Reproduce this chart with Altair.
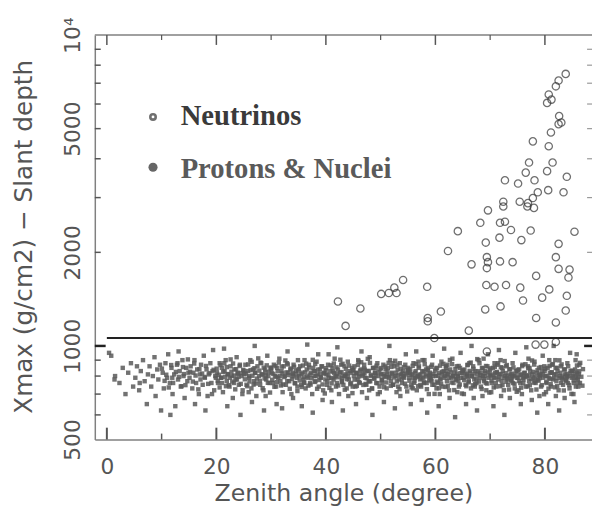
import altair as alt
import pandas as pd

# ---------------- data ----------------
x_major_ticks = [0, 20, 40, 60, 80]
x_minor_ticks = [10, 30, 50, 70]
y_label_values = [500, 1000, 2000, 5000, 10000]
y_minor_ticks = [600, 700, 800, 900, 2000, 3000, 4000, 5000, 6000, 7000, 8000, 9000]
y_major_ticks = [1000]
threshold_depth = 1060
threshold_start = 0
legend_labels = ["Neutrinos", "Protons & Nuclei"]

neutrino_angle = [83.8, 82.5, 82.0, 80.7, 81.2, 80.4, 82.6, 83.0, 82.5, 81.1, 77.8, 80.7,
                  77.1, 81.4, 76.5, 80.4, 84.0, 72.7, 75.1, 78.1, 78.7, 80.6, 83.4, 77.8,
                  72.4, 75.4, 76.9, 72.4, 76.8, 78.0, 69.6, 68.2, 71.8, 72.7, 64.1, 73.8,
                  77.4, 85.4, 71.7, 69.2, 75.7, 82.5, 62.3, 69.4, 69.6, 66.6, 71.8, 74.1,
                  82.0, 82.5, 84.5, 84.3, 69.4, 78.4, 54.1, 52.5, 51.5, 52.9, 50.1, 58.5,
                  69.3, 70.8, 72.9, 75.5, 80.8, 84.0, 79.5, 76.0, 42.2, 46.3, 61.0, 69.1,
                  71.9, 83.8, 58.6, 58.6, 78.4, 82.0, 43.6, 66.1, 59.8, 69.4, 79.9, 82.0,
                  78.3]
neutrino_depth = [7500, 7140, 6840, 6440, 6200, 6050, 5490, 5230, 5170, 4860, 4550, 4390,
                  3890, 3890, 3610, 3650, 3500, 3410, 3330, 3410, 3120, 3170, 3120, 2990,
                  2910, 2910, 2880, 2810, 2810, 2780, 2730, 2490, 2490, 2510, 2340, 2360,
                  2350, 2330, 2230, 2150, 2190, 2130, 2020, 1930, 1860, 1830, 1870, 1860,
                  1930, 1770, 1760, 1660, 1780, 1680, 1630, 1540, 1480, 1480, 1470, 1550,
                  1570, 1550, 1570, 1540, 1520, 1450, 1430, 1400, 1390, 1320, 1290, 1310,
                  1340, 1300, 1230, 1200, 1230, 1190, 1160, 1120, 1060, 960, 1010, 1030,
                  1010]

proton_points = [
    (0.4, 950), (0.8, 930), (1.4, 780), (1.5, 800), (2.3, 760), (2.9, 850), (3.4, 700), (3.9, 820), (4.4, 880), (4.8, 740),
    (5.2, 790), (5.5, 860), (5.9, 720), (6.2, 830), (6.6, 900), (6.9, 770), (7.3, 650), (7.5, 810), (7.8, 860), (8.1, 740),
    (8.4, 800), (8.7, 920), (8.9, 690), (9.2, 840), (9.4, 780), (9.7, 870), (9.9, 620), (6.0, 760),
    (10.2, 820), (10.4, 730), (10.7, 880), (11.0, 790), (11.2, 940), (11.5, 760), (11.8, 850), (12.0, 700), (12.3, 810),
    (12.5, 640), (12.8, 870), (13.0, 780), (13.3, 830), (13.5, 740), (13.8, 900), (14.0, 800), (14.2, 680), (14.5, 850),
    (14.7, 770), (14.9, 820), (11.6, 600), (13.1, 960),
    (15.1, 790), (15.3, 860), (15.6, 730), (15.8, 820), (16.0, 900), (16.3, 760), (16.5, 840), (16.8, 700), (17.0, 810),
    (17.2, 870), (17.5, 750), (17.7, 930), (17.9, 790), (18.2, 840), (18.4, 690), (18.6, 810), (18.9, 880), (19.1, 760),
    (19.3, 830), (19.6, 720), (19.8, 800), (16.1, 650), (18.0, 620), (19.4, 970),
    (20.1, 820), (20.3, 760), (20.6, 880), (20.8, 790), (21.0, 850), (21.2, 710), (21.5, 830), (21.7, 900), (21.9, 770),
    (22.1, 810), (22.4, 740), (22.6, 860), (22.8, 800), (23.0, 680), (23.3, 840), (23.5, 780), (23.7, 920), (23.9, 820),
    (24.1, 750), (24.3, 870), (24.6, 800), (24.8, 720), (22.0, 640), (24.4, 600), (21.4, 980), (23.2, 760),
    (25.1, 810), (25.3, 870), (25.5, 750), (25.8, 830), (26.0, 790), (26.2, 900), (26.4, 730), (26.7, 840), (26.9, 770),
    (27.1, 820), (27.3, 690), (27.5, 860), (27.8, 800), (28.0, 750), (28.2, 880), (28.4, 810), (28.6, 720), (28.9, 840),
    (29.1, 780), (29.3, 930), (29.5, 800), (29.7, 760), (29.9, 850), (26.5, 660), (28.7, 620), (27.0, 1000), (25.9, 710),
    (29.0, 690),
    (30.1, 820), (30.3, 760), (30.5, 870), (30.7, 800), (30.9, 740), (31.1, 850), (31.3, 790), (31.5, 910), (31.7, 770),
    (31.9, 830), (32.1, 710), (32.3, 860), (32.5, 800), (32.7, 750), (32.9, 880), (33.1, 820), (33.3, 770), (33.5, 840),
    (33.7, 700), (33.9, 810), (34.1, 870), (34.3, 760), (34.5, 830), (34.7, 790), (34.9, 900), (31.0, 650), (32.0, 630),
    (33.0, 960), (34.0, 680), (34.8, 740),
    (35.1, 800), (35.3, 860), (35.5, 750), (35.7, 820), (35.9, 780), (36.1, 900), (36.3, 730), (36.5, 840), (36.7, 790),
    (36.9, 870), (37.1, 760), (37.3, 820), (37.5, 700), (37.7, 850), (37.9, 800), (38.1, 770), (38.3, 890), (38.5, 810),
    (38.7, 740), (38.9, 840), (39.1, 790), (39.3, 860), (39.5, 720), (39.7, 820), (39.9, 780), (35.6, 640), (36.6, 1010),
    (37.6, 610), (38.6, 940), (39.4, 670), (36.0, 760), (38.0, 830),
    (40.1, 810), (40.2, 750), (40.4, 870), (40.6, 790), (40.8, 830), (41.0, 720), (41.2, 850), (41.4, 780), (41.6, 910),
    (41.8, 800), (42.0, 760), (42.2, 840), (42.4, 700), (42.6, 820), (42.8, 870), (43.0, 790), (43.2, 750), (43.4, 860),
    (43.6, 810), (43.8, 730), (44.0, 890), (44.2, 780), (44.4, 830), (44.6, 760), (44.8, 850), (41.1, 660), (42.1, 990),
    (43.1, 620), (44.1, 690), (40.5, 940), (43.5, 800), (44.9, 740), (42.9, 770), (41.5, 820),
    (45.1, 800), (45.2, 860), (45.4, 740), (45.6, 820), (45.8, 780), (46.0, 890), (46.2, 760), (46.4, 840), (46.6, 710),
    (46.8, 810), (47.0, 870), (47.2, 790), (47.4, 750), (47.6, 830), (47.8, 770), (48.0, 920), (48.2, 800), (48.4, 730),
    (48.6, 850), (48.8, 790), (49.0, 820), (49.2, 760), (49.4, 880), (49.6, 800), (49.8, 740), (45.5, 650), (46.5, 960),
    (47.5, 680), (48.5, 600), (49.5, 700), (46.1, 810), (47.1, 840), (48.1, 770), (49.1, 850), (45.9, 900), (47.9, 720),
    (50.1, 810), (50.3, 760), (50.5, 870), (50.7, 800), (50.9, 840), (51.1, 730), (51.3, 850), (51.5, 790), (51.7, 900),
    (51.9, 770), (52.1, 820), (52.3, 750), (52.5, 860), (52.7, 800), (52.9, 710), (53.1, 840), (53.3, 780), (53.5, 880),
    (53.7, 810), (53.9, 760), (54.1, 830), (54.3, 790), (54.5, 870), (54.7, 740), (54.9, 820), (50.6, 660), (51.6, 1000),
    (52.6, 630), (53.6, 690), (54.6, 940), (50.2, 780), (51.2, 810), (52.2, 880), (53.2, 740), (54.2, 800), (55.0, 850),
    (55.2, 790), (55.4, 840), (55.6, 750), (55.8, 810), (56.0, 880), (56.2, 770), (56.4, 830), (56.6, 720), (56.8, 800),
    (57.0, 860), (57.2, 780), (57.4, 740), (57.6, 830), (57.8, 790), (58.0, 900), (58.2, 810), (58.4, 760), (58.6, 850),
    (58.8, 700), (59.0, 820), (59.2, 780), (59.4, 870), (59.6, 800), (59.8, 750), (55.5, 650), (56.5, 960), (57.5, 670),
    (58.5, 610), (59.5, 930), (55.3, 820), (56.3, 790), (57.3, 810), (58.3, 840), (59.3, 770), (55.9, 730), (56.9, 890),
    (57.9, 760), (58.9, 800),
    (60.1, 800), (60.3, 850), (60.5, 760), (60.7, 820), (60.9, 780), (61.1, 890), (61.3, 740), (61.5, 830), (61.7, 800),
    (61.9, 860), (62.1, 770), (62.3, 810), (62.5, 720), (62.7, 840), (62.9, 790), (63.1, 910), (63.3, 760), (63.5, 820),
    (63.7, 780), (63.9, 860), (64.1, 800), (64.3, 740), (64.5, 850), (64.7, 790), (64.9, 820), (60.6, 640), (61.6, 980),
    (62.6, 680), (63.6, 590), (64.6, 950), (60.2, 730), (61.2, 810), (62.2, 870), (63.2, 800), (64.2, 770), (60.8, 700),
    (62.0, 830), (64.0, 710),
    (65.1, 790), (65.3, 840), (65.5, 750), (65.7, 810), (65.9, 870), (66.1, 770), (66.3, 820), (66.5, 730), (66.7, 800),
    (66.9, 860), (67.1, 780), (67.3, 830), (67.5, 760), (67.7, 810), (67.9, 900), (68.1, 790), (68.3, 740), (68.5, 850),
    (68.7, 800), (68.9, 770), (69.1, 830), (69.3, 720), (69.5, 860), (69.7, 790), (69.9, 810), (65.6, 650), (66.6, 1000),
    (67.6, 620), (68.6, 690), (69.6, 940), (65.2, 700), (66.2, 880), (67.2, 740), (68.2, 820), (69.2, 760), (65.8, 800),
    (67.0, 680), (68.8, 910),
    (70.1, 800), (70.3, 760), (70.5, 850), (70.7, 790), (70.9, 820), (71.1, 740), (71.3, 870), (71.5, 780), (71.7, 810),
    (71.9, 900), (72.1, 770), (72.3, 830), (72.5, 720), (72.7, 800), (72.9, 860), (73.1, 790), (73.3, 750), (73.5, 840),
    (73.7, 810), (73.9, 770), (74.1, 880), (74.3, 800), (74.5, 730), (74.7, 830), (74.9, 790), (70.6, 640), (71.6, 970),
    (72.6, 600), (73.6, 680), (74.6, 950), (70.2, 710), (71.2, 820), (72.2, 850), (73.2, 780), (74.2, 760), (70.8, 880),
    (72.0, 690), (74.0, 800),
    (75.1, 790), (75.3, 840), (75.5, 760), (75.7, 810), (75.9, 870), (76.1, 780), (76.3, 820), (76.5, 740), (76.7, 800),
    (76.9, 860), (77.1, 770), (77.3, 830), (77.5, 720), (77.7, 810), (77.9, 790), (78.1, 890), (78.3, 760), (78.5, 820),
    (78.7, 780), (78.9, 850), (79.1, 800), (79.3, 740), (79.5, 830), (79.7, 790), (79.9, 860), (75.6, 650), (76.6, 990),
    (77.6, 670), (78.6, 610), (79.6, 930), (75.2, 720), (76.2, 800), (77.2, 850), (78.2, 770), (79.2, 810), (75.8, 700),
    (77.0, 910), (79.0, 690),
    (80.1, 800), (80.3, 760), (80.5, 850), (80.7, 790), (80.9, 820), (81.1, 740), (81.3, 870), (81.5, 780), (81.7, 810),
    (81.9, 900), (82.1, 770), (82.3, 830), (82.5, 720), (82.7, 800), (82.9, 860), (83.1, 790), (83.3, 750), (83.5, 840),
    (83.7, 810), (83.9, 770), (84.1, 880), (84.3, 800), (84.5, 730), (84.7, 830), (84.9, 790), (80.6, 650), (81.6, 1000),
    (82.6, 620), (83.6, 680), (84.6, 950), (80.2, 710), (81.2, 820), (82.2, 850), (83.2, 780), (84.2, 760), (80.8, 900),
    (82.0, 690), (84.0, 800),
    (85.1, 800), (85.3, 760), (85.5, 840), (85.7, 790), (85.9, 820), (86.1, 740), (86.3, 870), (85.2, 700), (85.6, 900),
    (86.0, 780), (86.2, 810), (85.4, 660), (85.8, 940), (86.4, 760),
]

proton_points_core = [
    (10.05, 845), (10.55, 772), (10.85, 808), (11.3, 735), (11.75, 868), (11.95, 790), (12.1, 760), (12.6, 825),
    (12.9, 880), (13.2, 795), (13.65, 742), (13.9, 855), (14.1, 812), (14.35, 748), (14.8, 905), (15.2, 826),
    (15.7, 768), (15.95, 878), (16.2, 803), (16.7, 725), (16.9, 842), (17.1, 780), (17.4, 815), (17.85, 795),
    (18.1, 862), (18.5, 755), (18.75, 818), (19.2, 700), (19.5, 838), (19.9, 790),
    (20.05, 845), (20.25, 772), (20.45, 808), (20.6, 735), (20.75, 868), (20.9, 790),
    (21.05, 760), (21.25, 825), (21.45, 880), (21.6, 795), (21.75, 742), (21.9, 855),
    (22.05, 812), (22.25, 748), (22.45, 790), (22.6, 905), (22.75, 826), (22.9, 768),
    (23.05, 878), (23.25, 803), (23.45, 725), (23.6, 842), (23.75, 780), (23.9, 815),
    (24.05, 795), (24.25, 862), (24.45, 755), (24.6, 818), (24.75, 700), (24.9, 838),
    (25.05, 832), (25.2, 781), (25.4, 815), (25.65, 742), (25.8, 872), (25.95, 799),
    (26.05, 768), (26.25, 836), (26.45, 889), (26.6, 802), (26.8, 751), (26.95, 848),
    (27.05, 819), (27.2, 757), (27.4, 785), (27.65, 912), (27.85, 833), (27.95, 772),
    (28.05, 884), (28.25, 809), (28.45, 731), (28.65, 851), (28.8, 786), (28.95, 822),
    (29.05, 803), (29.2, 866), (29.4, 761), (29.6, 826), (29.8, 708), (29.95, 842),
    (30.05, 851), (30.2, 778), (30.4, 813), (30.6, 739), (30.8, 861), (30.95, 796),
    (31.05, 765), (31.2, 829), (31.4, 884), (31.6, 799), (31.8, 746), (31.95, 858),
    (32.05, 816), (32.2, 752), (32.4, 794), (32.6, 898), (32.8, 822), (32.95, 771),
    (33.05, 872), (33.2, 806), (33.4, 728), (33.6, 846), (33.8, 783), (33.95, 818),
    (34.05, 798), (34.2, 857), (34.4, 758), (34.6, 812), (34.8, 716), (34.95, 835),
    (35.05, 842), (35.2, 775), (35.4, 811), (35.6, 738), (35.8, 865), (35.95, 793),
    (36.05, 763), (36.2, 822), (36.4, 877), (36.6, 798), (36.8, 745), (36.95, 852),
    (37.05, 809), (37.2, 751), (37.4, 788), (37.6, 902), (37.8, 829), (37.95, 766),
    (38.05, 875), (38.2, 800), (38.4, 728), (38.6, 839), (38.8, 777), (38.95, 812),
    (39.05, 792), (39.2, 859), (39.4, 752), (39.6, 815), (39.8, 703), (39.95, 835),
    (40.05, 848), (40.25, 770), (40.45, 805), (40.65, 733), (40.85, 866), (40.95, 788),
    (41.05, 758), (41.25, 827), (41.45, 878), (41.65, 792), (41.85, 740), (41.95, 853),
    (42.05, 814), (42.25, 746), (42.45, 793), (42.65, 903), (42.85, 824), (42.95, 765),
    (43.05, 876), (43.25, 801), (43.45, 723), (43.65, 844), (43.85, 782), (43.95, 817),
    (44.05, 797), (44.25, 864), (44.45, 753), (44.65, 820), (44.85, 705), (44.95, 836),
    (45.05, 835), (45.25, 779), (45.45, 817), (45.65, 744), (45.85, 869), (45.95, 797),
    (46.05, 766), (46.25, 833), (46.45, 886), (46.65, 800), (46.85, 749), (46.95, 846),
    (47.05, 817), (47.25, 755), (47.45, 787), (47.65, 909), (47.85, 831), (47.95, 770),
    (48.05, 882), (48.25, 807), (48.45, 729), (48.65, 849), (48.85, 784), (48.95, 820),
    (49.05, 801), (49.25, 864), (49.45, 759), (49.65, 824), (49.85, 710), (49.95, 840),
    (50.05, 849), (50.25, 776), (50.45, 811), (50.65, 737), (50.85, 859), (50.95, 794),
    (51.05, 763), (51.25, 827), (51.45, 882), (51.65, 797), (51.85, 744), (51.95, 856),
    (52.05, 814), (52.25, 750), (52.45, 792), (52.65, 896), (52.85, 820), (52.95, 769),
    (53.05, 870), (53.25, 804), (53.45, 726), (53.65, 844), (53.85, 781), (53.95, 816),
    (54.05, 796), (54.25, 855), (54.45, 756), (54.65, 810), (54.85, 714), (54.95, 833),
    (55.05, 840), (55.25, 773), (55.45, 809), (55.65, 736), (55.85, 863), (55.95, 791),
    (56.05, 761), (56.25, 820), (56.45, 875), (56.65, 796), (56.85, 743), (56.95, 850),
    (57.05, 807), (57.25, 749), (57.45, 786), (57.65, 900), (57.85, 827), (57.95, 764),
    (58.05, 873), (58.25, 798), (58.45, 726), (58.65, 837), (58.85, 775), (58.95, 810),
    (59.05, 790), (59.25, 857), (59.45, 750), (59.65, 813), (59.85, 701), (59.95, 833),
    (60.05, 846), (60.25, 768), (60.45, 803), (60.65, 731), (60.85, 864), (60.95, 786),
    (61.05, 756), (61.25, 825), (61.45, 876), (61.65, 790), (61.85, 738), (61.95, 851),
    (62.05, 812), (62.25, 744), (62.45, 791), (62.65, 901), (62.85, 822), (62.95, 763),
    (63.05, 874), (63.25, 799), (63.45, 721), (63.65, 842), (63.85, 780), (63.95, 815),
    (64.05, 795), (64.25, 862), (64.45, 751), (64.65, 818), (64.85, 703), (64.95, 834),
    (65.05, 833), (65.25, 777), (65.45, 815), (65.65, 742), (65.85, 867), (65.95, 795),
    (66.05, 764), (66.25, 831), (66.45, 884), (66.65, 798), (66.85, 747), (66.95, 844),
    (67.05, 815), (67.25, 753), (67.45, 785), (67.65, 907), (67.85, 829), (67.95, 768),
    (68.05, 880), (68.25, 805), (68.45, 727), (68.65, 847), (68.85, 782), (68.95, 818),
    (69.05, 799), (69.25, 862), (69.45, 757), (69.65, 822), (69.85, 708), (69.95, 838),
    (70.05, 847), (70.25, 774), (70.45, 809), (70.65, 735), (70.85, 857), (70.95, 792),
    (71.05, 761), (71.25, 825), (71.45, 880), (71.65, 795), (71.85, 742), (71.95, 854),
    (72.05, 812), (72.25, 748), (72.45, 790), (72.65, 894), (72.85, 818), (72.95, 767),
    (73.05, 868), (73.25, 802), (73.45, 724), (73.65, 842), (73.85, 779), (73.95, 814),
    (74.05, 794), (74.25, 853), (74.45, 754), (74.65, 808), (74.85, 712), (74.95, 831),
    (75.05, 838), (75.25, 771), (75.45, 807), (75.65, 734), (75.85, 861), (75.95, 789),
    (76.05, 759), (76.25, 818), (76.45, 873), (76.65, 794), (76.85, 741), (76.95, 848),
    (77.05, 805), (77.25, 747), (77.45, 784), (77.65, 898), (77.85, 825), (77.95, 762),
    (78.05, 871), (78.25, 796), (78.45, 724), (78.65, 835), (78.85, 773), (78.95, 808),
    (79.05, 788), (79.25, 855), (79.45, 748), (79.65, 811), (79.85, 699), (79.95, 831),
    (80.05, 844), (80.25, 766), (80.45, 801), (80.65, 729), (80.85, 862), (80.95, 784),
    (81.05, 754), (81.25, 823), (81.45, 874), (81.65, 788), (81.85, 736), (81.95, 849),
    (82.05, 810), (82.25, 742), (82.45, 789), (82.65, 899), (82.85, 820), (82.95, 761),
    (83.05, 872), (83.25, 797), (83.45, 719), (83.65, 840), (83.85, 778), (83.95, 813),
    (84.05, 793), (84.25, 860), (84.45, 749), (84.65, 816), (84.85, 701), (84.95, 832),
    (85.05, 831), (85.25, 775), (85.45, 813), (85.65, 740), (85.85, 865), (85.95, 793),
    (86.05, 762), (86.25, 829), (86.45, 882), (86.65, 796), (86.85, 745), (86.95, 842),
]

# ---------------- layout / style ----------------
W, H = 504, 410
FONT = "DejaVu Sans"
GREY = "#555555"

xscale = alt.Scale(domain=[-2.2, 88.6], nice=False, zero=False)
yscale = alt.Scale(type="log", domain=[500, 10000], nice=False)

xaxis = alt.Axis(values=x_major_ticks, ticks=False, tickSize=0, grid=False, domain=True,
                 domainColor="#808080", domainWidth=1.5, format="d",
                 labelFont=FONT, labelFontSize=22, labelColor=GREY, labelPadding=17,
                 labelOverlap=False, labelFlush=False,
                 title="Zenith angle (degree)", titleFont=FONT, titleFontSize=24,
                 titleFontWeight="normal", titleColor=GREY, titleY=62,
                 titleBaseline="alphabetic")
yaxis = alt.Axis(values=y_label_values, ticks=False, tickSize=0, grid=False, domain=True,
                 domainColor="#808080", domainWidth=1.5,
                 labelExpr="datum.value == 10000 ? '10\u2074' : format(datum.value, 'd')",
                 labelAngle=270, labelAlign="center", labelBaseline="bottom",
                 labelFont=FONT, labelFontSize=22, labelColor=GREY, labelPadding=11,
                 labelOverlap=False, labelFlush=False,
                 title="Xmax (g/cm2) \u2212 Slant depth", titleFont=FONT, titleFontSize=25,
                 titleFontWeight="normal", titleColor=GREY, titleAngle=270,
                 titleX=-64, titleY=204, titleAlign="center", titleBaseline="alphabetic")

X = alt.X("x:Q", scale=xscale, axis=xaxis)
Y = alt.Y("y:Q", scale=yscale, axis=yaxis)

protons = pd.DataFrame(proton_points + proton_points_core, columns=["x", "y"])
neutrinos = pd.DataFrame({"x": neutrino_angle, "y": neutrino_depth})
threshold = pd.DataFrame({"x": [threshold_start], "y": [threshold_depth]})
xmaj = pd.DataFrame({"x": x_major_ticks})
xmin = pd.DataFrame({"x": x_minor_ticks})
ymin = pd.DataFrame({"y": y_minor_ticks})
ymaj = pd.DataFrame({"y": y_major_ticks})
one = pd.DataFrame({"x": [0]})

proton_layer = alt.Chart(protons).mark_square(size=20, color="#595959", opacity=0.85).encode(x=X, y=Y)
neutrino_layer = alt.Chart(neutrinos).mark_point(shape="circle", filled=False, size=55,
                                                 strokeWidth=1.3, color="#333333").encode(x=X, y=Y)
threshold_layer = alt.Chart(threshold).mark_rule(color="#222222", strokeWidth=2).encode(
    x=X, x2=alt.value(W), y=Y)

top_line = alt.Chart(one).mark_rule(color="#808080", strokeWidth=1.5).encode(
    x=alt.value(0), x2=alt.value(W), y=alt.value(0))

tick_col = "#555555"
bot_major = alt.Chart(xmaj).mark_rule(color=tick_col, strokeWidth=2).encode(
    x=X, y=alt.value(H), y2=alt.value(H - 12))
bot_minor = alt.Chart(xmin).mark_rule(color=tick_col, strokeWidth=1.5).encode(
    x=X, y=alt.value(H), y2=alt.value(H - 6))
top_major = alt.Chart(xmaj).mark_rule(color=tick_col, strokeWidth=1.5).encode(
    x=X, y=alt.value(0), y2=alt.value(10))
top_minor = alt.Chart(xmin).mark_rule(color=tick_col, strokeWidth=1.2).encode(
    x=X, y=alt.value(0), y2=alt.value(5))
left_minor = alt.Chart(ymin).mark_rule(color=tick_col, strokeWidth=1.5).encode(
    y=Y, x=alt.value(0), x2=alt.value(6))
left_major = alt.Chart(ymaj).mark_rule(color="#222222", strokeWidth=2.5).encode(
    y=Y, x=alt.value(0), x2=alt.value(11))
right_minor = alt.Chart(ymin).mark_rule(color="#999999", strokeWidth=1.2).encode(
    y=Y, x=alt.value(W - 5), x2=alt.value(W))
right_major = alt.Chart(ymaj).mark_rule(color="#222222", strokeWidth=2.5).encode(
    y=Y, x=alt.value(W - 8), x2=alt.value(W))

leg1 = pd.DataFrame({"label": [legend_labels[0]]})
leg2 = pd.DataFrame({"label": [legend_labels[1]]})
leg_mark1 = alt.Chart(leg1).mark_point(shape="circle", filled=False, size=30, strokeWidth=2.6,
                                      color="#333333").encode(x=alt.value(59), y=alt.value(83))
leg_mark2 = alt.Chart(leg2).mark_point(shape="circle", filled=True, size=85, opacity=1,
                                      color="#666666").encode(x=alt.value(59), y=alt.value(134))
leg_text1 = alt.Chart(leg1).mark_text(font="Liberation Serif", fontWeight="bold", fontSize=29,
                                     align="left", baseline="alphabetic", color="#3a3a3a").encode(
    x=alt.value(87), y=alt.value(91), text="label:N")
leg_text2 = alt.Chart(leg2).mark_text(font="Liberation Serif", fontWeight="bold", fontSize=29,
                                     align="left", baseline="alphabetic", color="#5a5a5a").encode(
    x=alt.value(87), y=alt.value(145), text="label:N")

chart = alt.layer(
    proton_layer, neutrino_layer, threshold_layer, top_line,
    bot_major, bot_minor, top_major, top_minor, left_minor, left_major, right_minor, right_major,
    leg_mark1, leg_mark2, leg_text1, leg_text2,
).properties(
    width=W, height=H,
    autosize=alt.AutoSizeParams(type="none"),
    padding={"left": 88, "top": 24, "right": 0, "bottom": 66},
    background="white",
).configure_view(stroke=None)

chart.save("out.html", embed_options={"renderer": "svg", "actions": False})
